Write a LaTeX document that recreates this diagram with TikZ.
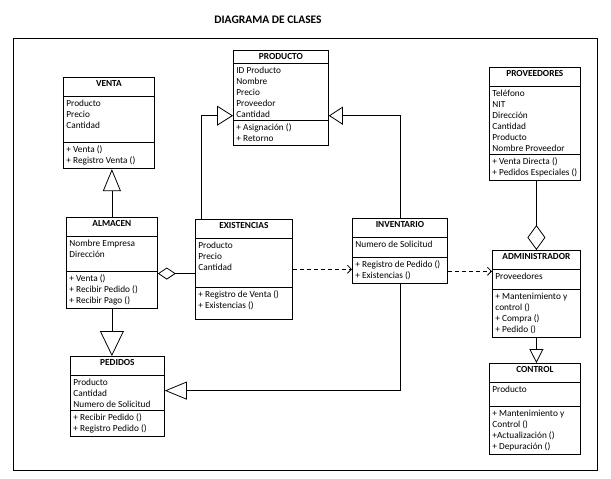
\documentclass[tikz,border=0pt]{standalone}
\usepackage{fontspec}
\setmainfont{Carlito}
\usetikzlibrary{shapes.multipart,arrows.meta}

\newcommand{\classhead}[1]{\textbf{#1}\rule[-6pt]{0pt}{6pt}}
\newcommand{\rowgap}{\rule[-7pt]{0pt}{7pt}}

\tikzset{
  class/.style={draw, rectangle split, rectangle split parts=3,
    rectangle split part align={center,left,left},
    align=left, anchor=north west, minimum width=#1,
    inner xsep=3pt, inner ysep=3pt,
    font=\fontsize{9.3}{11}\selectfont},
  inherits/.style args={#1/#2}{-{Triangle[open,length=#1,width=#2]}},
  holds/.style args={#1/#2}{{Diamond[open,length=#1,width=#2]}-},
  uses/.style={dash pattern=on 4pt off 3pt, -{Straight Barb[length=4pt,width=8pt]}}
}

\begin{document}
\begin{tikzpicture}[x=1pt,y=-1pt,line width=0.8pt]
  \useasboundingbox (0,0) rectangle (611,479);

  % Title and frame
  \node[font=\bfseries\fontsize{11.5}{13}\selectfont] (title) at (268,20) {DIAGRAMA DE CLASES};
  \draw (13,38) rectangle (597,470);

  % Classes
  \node[class=95pt] (producto) at (233,50) {\textbf{PRODUCTO}
    \nodepart{two}ID Producto\\Nombre\\Precio\\Proveedor\\Cantidad
    \nodepart{three}+ Asignación ()\\+ Retorno};
  \node[class=91pt] (venta) at (63,77) {\classhead{VENTA}
    \nodepart{two}Producto\\Precio\\Cantidad\\ \mbox{}
    \nodepart{three}+ Venta ()\\+ Registro Venta ()};
  \node[class=89pt] (proveedores) at (489,67) {\classhead{PROVEEDORES}
    \nodepart{two}Teléfono\\NIT\\Dirección\\Cantidad\\Producto\\Nombre Proveedor
    \nodepart{three}+ Venta Directa ()\\+ Pedidos Especiales ()};
  \node[class=91pt] (almacen) at (66,217) {\classhead{ALMACEN}
    \nodepart{two}Nombre Empresa\\Dirección\\ \mbox{}
    \nodepart{three}+ Venta ()\\+ Recibir Pedido ()\\+ Recibir Pago ()};
  \node[class=97pt] (existencias) at (195,219) {\classhead{EXISTENCIAS}
    \nodepart{two}Producto\\Precio\\Cantidad\\ \mbox{}\rule[-3pt]{0pt}{0pt}
    \nodepart{three}+ Registro de Venta ()\\+ Existencias ()\rule[-7pt]{0pt}{0pt}};
  \node[class=95pt] (inventario) at (352,218) {\classhead{INVENTARIO}
    \nodepart{two}Numero de Solicitud\rowgap
    \nodepart{three}+ Registro de Pedido ()\\+ Existencias ()};
  \node[class=88pt] (administrador) at (492,250) {\classhead{ADMINISTRADOR}
    \nodepart{two}Proveedores\rowgap
    \nodepart{three}+ Mantenimiento y\\control ()\\+ Compra ()\\+ Pedido ()};
  \node[class=91pt] (control) at (489,363) {\classhead{CONTROL}
    \nodepart{two}Producto\\ \mbox{}
    \nodepart{three}+ Mantenimiento y\\Control ()\\+Actualización ()\\+ Depuración ()};
  \node[class=94pt] (pedidos) at (70,356) {\classhead{PEDIDOS}
    \nodepart{two}Producto\\Cantidad\\Numero de Solicitud
    \nodepart{three}+ Recibir Pedido ()\\+ Registro Pedido ()};

  % Generalizations
  \draw[inherits=22pt/18pt] (almacen.north) -- (almacen.north |- venta.south);
  \draw[inherits=25pt/24pt] (almacen.south) -- (almacen.south |- pedidos.north);
  \draw[inherits=16pt/20pt] ([xshift=6pt]existencias.north west) |- ([yshift=5pt]producto.two split west);
  \draw[inherits=14pt/18pt] (inventario.north) |- ([yshift=5pt]producto.two split east);
  \draw[inherits=22pt/18pt] (inventario.south) |- ([yshift=6pt]pedidos.east);
  \draw[inherits=14pt/14pt] (administrador.south) -- (administrador.south |- control.north);

  % Aggregations
  \coordinate (agg) at ([yshift=-2pt]almacen.two split east);
  \draw[holds=18pt/12pt] (agg) -- (agg -| existencias.west);
  \draw[holds=25pt/18pt] (administrador.north) -- (administrador.north |- proveedores.south);

  % Dependencies
  \coordinate (dep) at ([yshift=-2pt]administrador.text split west);
  \draw[uses] (existencias.east) -- (existencias.east -| inventario.west);
  \draw[uses] (dep -| inventario.east) -- (dep);
\end{tikzpicture}
\end{document}
